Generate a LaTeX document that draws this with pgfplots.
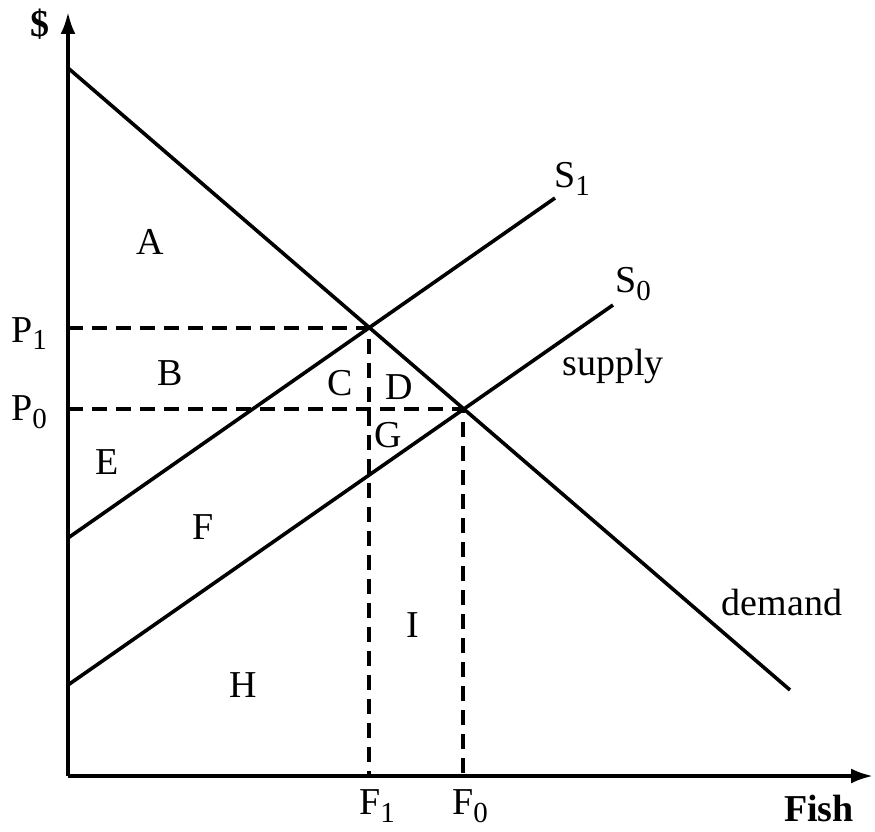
\documentclass[border=0pt]{standalone}
\usepackage{fontspec}
\setmainfont{Liberation Serif}
\usepackage{pgfplots}
\pgfplotsset{compat=1.18}
\usetikzlibrary{arrows.meta}
\newcommand{\lbl}{\fontsize{38}{44}\selectfont}
\newcommand{\sub}[1]{\raisebox{-8pt}{\fontsize{29}{32}\selectfont #1}}
\begin{document}
\begin{tikzpicture}[lab/.style={inner sep=0pt, font=\lbl}, blab/.style={inner sep=0pt, font=\lbl\bfseries}]
\begin{axis}[x=1pt,y=1pt,xmin=0,xmax=805,ymin=0,ymax=764,
  hide axis, clip=false]
% bounding box matching reference
\path (axis cs:-68,-55) rectangle (axis cs:807,776);
% axes
\addplot[black, line width=3.6pt, -{Latex[length=22pt,width=15pt]}] coordinates {(0,0) (805,0)};
\addplot[black, line width=3.6pt, -{Latex[length=22pt,width=15pt]}] coordinates {(0,0) (0,764)};
% demand and supply curves
\addplot[black, line width=3.6pt] coordinates {(0,708) (722,86)};
\addplot[black, line width=3.6pt] coordinates {(0,238) (487,578)};
\addplot[black, line width=3.6pt] coordinates {(0,91) (545,471)};
% dashed guides
\addplot[black, line width=3.6pt, dash pattern=on 15pt off 9pt] coordinates {(0,448) (301,448) (301,0)};
\addplot[black, line width=3.6pt, dash pattern=on 15pt off 9pt] coordinates {(0,367) (395,367) (395,0)};
% labels
\node[blab, anchor=center] at (axis cs:-28,752) {\$};
\node[lab, anchor=base] at (axis cs:-39,434) {P\sub{1}};
\node[lab, anchor=base] at (axis cs:-39,356) {P\sub{0}};
\node[lab, anchor=base] at (axis cs:309,-38) {F\sub{1}};
\node[lab, anchor=base] at (axis cs:402,-38) {F\sub{0}};
\node[blab, anchor=base] at (axis cs:751,-45) {Fish};
\node[lab] at (axis cs:82,534) {A};
\node[lab] at (axis cs:102,403) {B};
\node[lab] at (axis cs:272,393) {C};
\node[lab] at (axis cs:331,389) {D};
\node[lab] at (axis cs:320,341) {G};
\node[lab] at (axis cs:39,314) {E};
\node[lab] at (axis cs:135,249) {F};
\node[lab] at (axis cs:175,91) {H};
\node[lab] at (axis cs:345,151) {I};
\node[lab, anchor=base] at (axis cs:504,588) {S\sub{1}};
\node[lab, anchor=base] at (axis cs:565,483) {S\sub{0}};
\node[lab, anchor=base] at (axis cs:545,401) {supply};
\node[lab, anchor=base] at (axis cs:714,161) {demand};
\end{axis}
\end{tikzpicture}
\end{document}
